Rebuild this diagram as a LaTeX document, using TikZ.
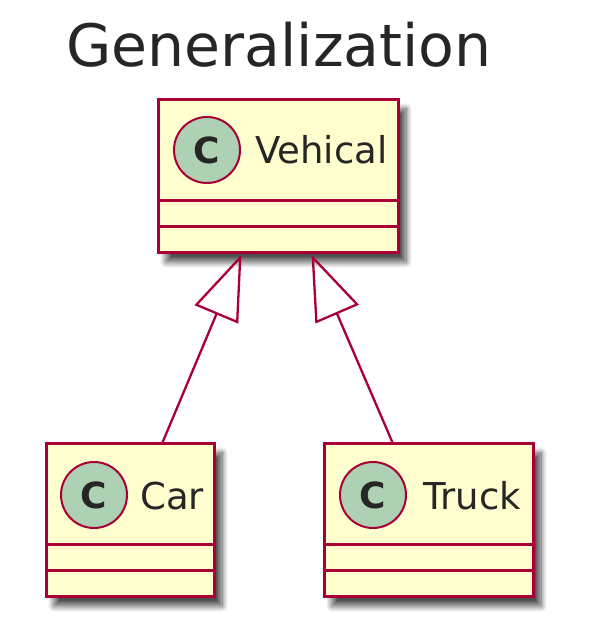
\documentclass[tikz,border=0pt]{standalone}
\usepackage{fontspec}
\setmainfont{DejaVu Sans}
\usetikzlibrary{arrows.meta,calc,shadows.blur}
\definecolor{umlfill}{HTML}{FEFECE}
\definecolor{umlborder}{HTML}{A80036}
\definecolor{umlcirc}{HTML}{ADD1B2}
\tikzset{
  classbox/.style={draw=umlborder, fill=umlfill, line width=3pt, rectangle, inner sep=0pt,
    blur shadow={shadow xshift=8pt, shadow yshift=-9pt, shadow blur radius=6pt, shadow blur steps=12, shadow opacity=70}},
  sepline/.style={draw=umlborder, line width=3pt},
  classcirc/.style={circle, draw=umlborder, fill=umlcirc, line width=2pt, minimum size=66pt, inner sep=0pt,
    font=\fontsize{36}{40}\selectfont\bfseries, text=black!85},
  classname/.style={anchor=base west, inner sep=0pt, font=\fontsize{37}{40}\selectfont, text=black!85},
  gen/.style={draw=umlborder, line width=2.3pt, -{Triangle[open, length=65pt, width=47pt, line width=2.3pt]}}
}
\begin{document}
\begin{tikzpicture}[x=1pt,y=1pt]
\useasboundingbox (0,0) rectangle (595,640);
% title
\node[anchor=base west, inner sep=0pt, font=\fontsize{58.5}{64}\selectfont, text=black!85] (title) at (66,573) {Generalization};
% classes
\node[classbox, minimum width=240pt, minimum height=153pt] (veh) at (278,463.5) {};
\node[classbox, minimum width=168pt, minimum height=153pt] (car) at (130,119.5) {};
\node[classbox, minimum width=209pt, minimum height=153pt] (truck) at (428.5,119.5) {};
% compartments
\foreach \b in {veh,car,truck}{
  \draw[sepline] ($(\b.north west)+(0,-102)$) -- ($(\b.north east)+(0,-102)$);
  \draw[sepline] ($(\b.north west)+(0,-128)$) -- ($(\b.north east)+(0,-128)$);
}
% headers
\node[classcirc] (vehc) at (207,490) {C};
\node[classname] (vehn) at (255,476) {Vehical};
\node[classcirc] (carc) at (94,145) {C};
\node[classname] (carn) at (140,130) {Car};
\node[classcirc] (truckc) at (373,145) {C};
\node[classname] (truckn) at (423,130) {Truck};
% connectors
\path (car.north west) ++(118,0) coordinate (cartop);
\path (truck.north west) ++(70,0) coordinate (trucktop);
\path (veh.south west) ++(85,0) coordinate (vehl);
\path (veh.south west) ++(155,0) coordinate (vehr);
\draw[gen] (cartop) -- (vehl);
\draw[gen] (trucktop) -- (vehr);
\end{tikzpicture}
\end{document}
